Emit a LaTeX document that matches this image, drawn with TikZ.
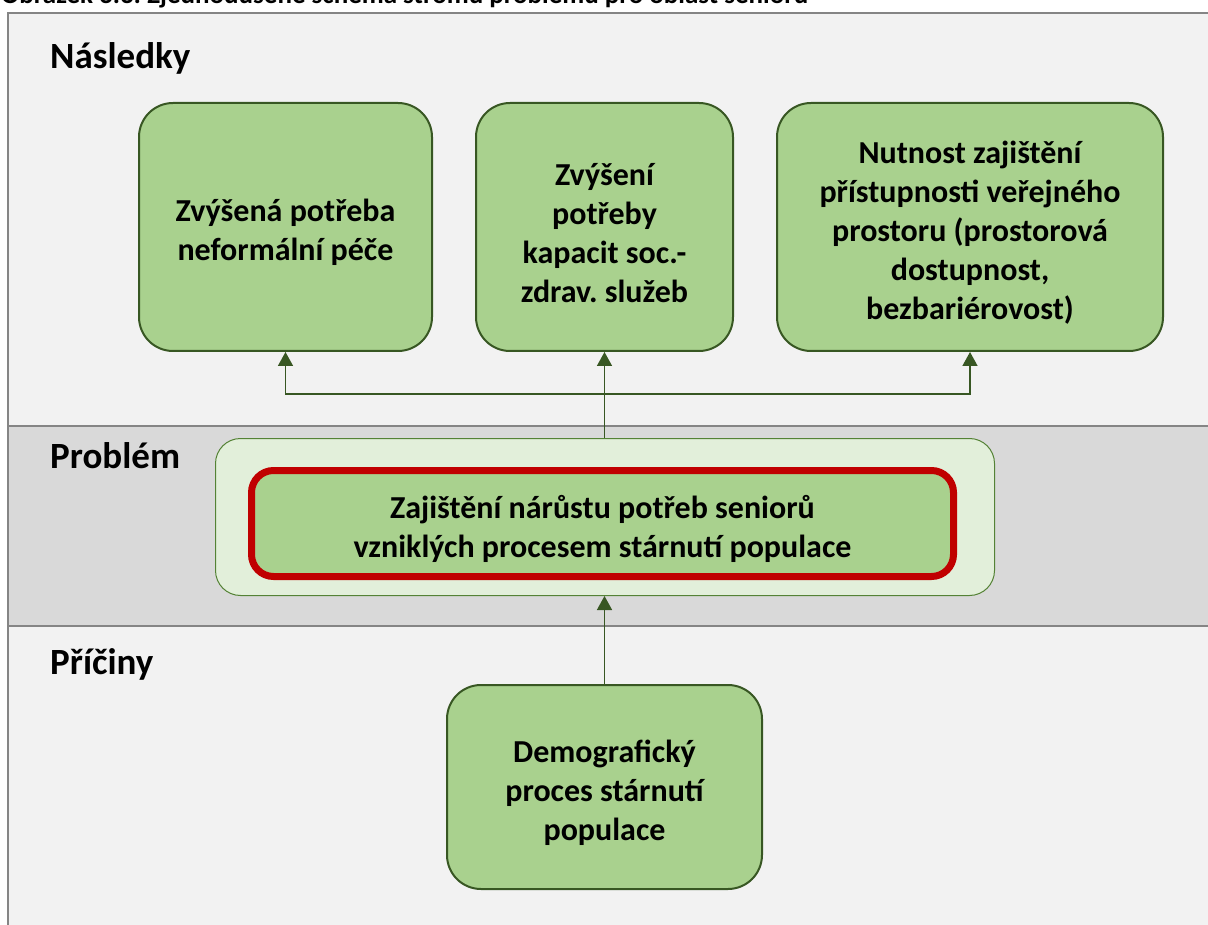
\documentclass[tikz,border=0pt]{standalone}
\usepackage{fontspec}
\setmainfont{Carlito}
\usepackage{tikz}
\usetikzlibrary{arrows.meta,positioning}
\usepackage{xcolor}

\definecolor{bandlight}{HTML}{F2F2F2}
\definecolor{banddark}{HTML}{D9D9D9}
\definecolor{framegray}{HTML}{858585}
\definecolor{leafgreen}{HTML}{A9D18E}
\definecolor{palegreen}{HTML}{E2EFDA}
\definecolor{darkgreen}{HTML}{385723}
\definecolor{midgreen}{HTML}{548235}
\definecolor{probred}{HTML}{C00000}

% taller first line, so the text sits a little lower in its box
\newcommand{\topgap}{\rule{0pt}{34pt}}

\begin{document}
\frenchspacing
\begin{tikzpicture}[x=1pt, y=-1pt,
  >={Triangle[width=15pt,length=14pt]},
  band/.style={fill=#1, draw=framegray, line width=2pt},
  heading/.style={anchor=base west, inner sep=0pt, font=\fontsize{37}{42}\selectfont\bfseries},
  leaf/.style={draw=darkgreen, line width=2pt, fill=leafgreen, rounded corners=34pt,
    inner sep=0pt, align=center, font=\fontsize{32}{39}\selectfont\bfseries},
  link/.style={->, draw=darkgreen, line width=1.5pt}]

  \useasboundingbox (0, 0) rectangle (1208, 925);
  \clip (0, 0) rectangle (1208, 925);

  % Caption (cut at the top edge)
  \node[anchor=base west, inner sep=0pt, font=\fontsize{27}{32}\selectfont\bfseries]
    (caption) at (1, 4) {Obrázek 3.3: Zjednodušené schéma stromu problémů pro oblast seniorů};

  % Background bands
  \path[band=bandlight] (8, 13) rectangle (1230, 426);
  \path[band=banddark] (8, 426) rectangle (1230, 626);
  \path[band=bandlight] (8, 626) rectangle (1230, 950);

  % Band headings
  \node[heading] (hcons) at (50, 69) {Následky};
  \node[heading] (hprob) at (50, 468) {Problém};
  \node[heading] (hcause) at (50, 674) {Příčiny};

  % Consequences
  \node[leaf, minimum width=293pt, minimum height=248pt] (need1) at (285.5, 227)
    {\topgap Zvýšená potřeba\\neformální péče};
  \node[leaf, minimum width=257pt, minimum height=248pt] (need2) at (604.5, 227)
    {\topgap Zvýšení\\potřeby\\kapacit soc.-\\zdrav. služeb};
  \node[leaf, minimum width=386pt, minimum height=248pt] (need3) at (970, 227)
    {\topgap Nutnost zajištění\\přístupnosti veřejného\\prostoru (prostorová\\dostupnost,\\bezbariérovost)};

  % Problem
  \node[draw=midgreen, line width=1pt, fill=palegreen, rounded corners=25pt,
    minimum width=779pt, minimum height=157pt] (prob) at (605, 517) {};
  \node[leaf, draw=probred, line width=7pt, rounded corners=22pt,
    minimum width=702pt, minimum height=106pt] (core) at (602.5, 523.5)
    {\topgap Zajištění nárůstu potřeb seniorů\\vzniklých procesem stárnutí populace};

  % Cause
  \node[leaf, minimum width=315pt, minimum height=204pt] (cause) at (604.5, 787)
    {\topgap Demografický\\proces stárnutí\\populace};

  % Draw arrows between nodes
  \coordinate (split) at (604.5, 394);
  \draw[link] (prob.north -| split) -- (need2.south);
  \draw[link] (split) -| (need1.south);
  \draw[link] (split) -| (need3.south);
  \draw[link] (cause.north) -- (cause.north |- prob.south);
\end{tikzpicture}
\end{document}
